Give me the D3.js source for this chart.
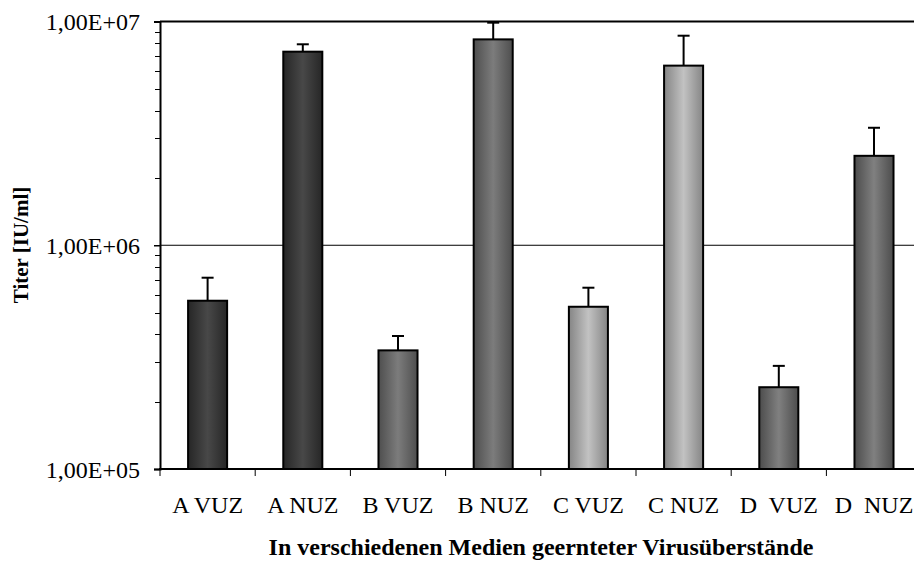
<!DOCTYPE html>
<html>
<head>
<meta charset="utf-8">
<script src="https://cdn.jsdelivr.net/npm/d3@7"></script>
<style>
  body { margin: 0; background: #fff; }
  text { font-family: "Liberation Serif", "Times New Roman", serif; fill: #000; }
</style>
</head>
<body>
<div id="chart"></div>
<script>
// Data
var categories = ['A VUZ', 'A NUZ', 'B VUZ', 'B NUZ', 'C VUZ', 'C NUZ', 'D  VUZ', 'D  NUZ'];
var titer = [5.65e5, 7.33e6, 3.39e5, 8.32e6, 5.31e5, 6.35e6, 2.32e5, 2.51e6];
var errUp = [1.51e5, 0.58e6, 0.54e5, 1.56e6, 1.15e5, 2.29e6, 0.57e5, 0.84e6];
var group = ['A', 'A', 'B', 'B', 'C', 'C', 'D', 'D'];
var yTicks = [1e5, 1e6, 1e7];

var chartWidth = 914;
var chartHeight = 561;
var plotLeft = 160, plotTop = 21.5, plotBottom = 469, step = 95.2;

// cylinder-like shading per group: [edge, centre]
var shades = {
  A: ['#262626', '#484848'],
  B: ['#4e4e4e', '#7c7c7c'],
  C: ['#858585', '#c2c2c2'],
  D: ['#4c4c4c', '#808080']
};

var svg = d3.select('#chart')
  .append('svg')
  .attr('width', chartWidth)
  .attr('height', chartHeight);

var defs = svg.append('defs');
Object.keys(shades).forEach(function(k) {
  var g = defs.append('linearGradient')
    .attr('id', 'grad' + k)
    .attr('x1', '0%').attr('x2', '100%')
    .attr('y1', '0%').attr('y2', '0%');
  g.append('stop').attr('offset', '0%').attr('stop-color', shades[k][0]);
  g.append('stop').attr('offset', '50%').attr('stop-color', shades[k][1]);
  g.append('stop').attr('offset', '100%').attr('stop-color', shades[k][0]);
});

// Scales
var xOuter = d3.scaleBand()
  .domain(categories)
  .range([plotLeft, plotLeft + step * categories.length])
  .padding(0);

var xScale = d3.scaleBand()
  .domain(categories)
  .range([plotLeft, plotLeft + step * categories.length])
  .paddingInner(0.59)
  .paddingOuter(0.295);

var yScale = d3.scaleLog()
  .domain([1e5, 1e7])
  .range([plotBottom, plotTop]);

var fmt = function(v) {
  var e = Math.round(Math.log10(v));
  return '1,00E+' + (e < 10 ? '0' + e : e);
};

// Gridlines
svg.append('g')
  .selectAll('line')
  .data(yTicks.slice(1))
  .enter()
  .append('line')
  .attr('x1', plotLeft)
  .attr('x2', chartWidth)
  .attr('y1', d => yScale(d))
  .attr('y2', d => yScale(d))
  .attr('stroke', '#000')
  .attr('stroke-width', (d, i) => i === yTicks.length - 2 ? 2 : 1);

// Y minor ticks
var minor = yScale.ticks().filter(d => yTicks.indexOf(d) < 0);
svg.append('g')
  .selectAll('line')
  .data(minor)
  .enter()
  .append('line')
  .attr('x1', plotLeft - 5)
  .attr('x2', plotLeft)
  .attr('y1', d => Math.round(yScale(d)) + 0.5)
  .attr('y2', d => Math.round(yScale(d)) + 0.5)
  .attr('stroke', '#000')
  .attr('stroke-width', 1);

// Y axis
var yAxis = svg.append('g')
  .attr('transform', 'translate(' + plotLeft + ',0)')
  .call(d3.axisLeft(yScale).tickValues(yTicks).tickFormat(fmt).tickSize(6).tickPadding(14));
yAxis.select('.domain').attr('stroke-width', 2);
yAxis.selectAll('.tick line').attr('stroke-width', 1.5);
yAxis.selectAll('.tick text')
  .style('font-family', '"Liberation Serif", serif')
  .style('font-size', '24px')
  .attr('dy', '0.35em');

// Bars
svg.append('g')
  .selectAll('rect')
  .data(titer)
  .enter()
  .append('rect')
  .attr('x', (d, i) => xScale(categories[i]))
  .attr('y', d => yScale(d))
  .attr('width', xScale.bandwidth())
  .attr('height', d => plotBottom - yScale(d))
  .attr('fill', (d, i) => 'url(#grad' + group[i] + ')')
  .attr('stroke', '#000')
  .attr('stroke-width', 2);

// Error bars (upper only)
var eb = svg.append('g')
  .selectAll('g')
  .data(titer)
  .enter()
  .append('g');
eb.append('line')
  .attr('x1', (d, i) => xScale(categories[i]) + xScale.bandwidth() / 2)
  .attr('x2', (d, i) => xScale(categories[i]) + xScale.bandwidth() / 2)
  .attr('y1', d => yScale(d))
  .attr('y2', (d, i) => yScale(d + errUp[i]))
  .attr('stroke', '#000')
  .attr('stroke-width', 2);
eb.append('line')
  .attr('x1', (d, i) => xScale(categories[i]) + xScale.bandwidth() / 2 - 6)
  .attr('x2', (d, i) => xScale(categories[i]) + xScale.bandwidth() / 2 + 6)
  .attr('y1', (d, i) => yScale(d + errUp[i]))
  .attr('y2', (d, i) => yScale(d + errUp[i]))
  .attr('stroke', '#000')
  .attr('stroke-width', 2);

// X axis
svg.append('line')
  .attr('x1', plotLeft - 1)
  .attr('x2', chartWidth)
  .attr('y1', plotBottom)
  .attr('y2', plotBottom)
  .attr('stroke', '#000')
  .attr('stroke-width', 2);

svg.append('g')
  .selectAll('line')
  .data(categories)
  .enter()
  .append('line')
  .attr('x1', d => xOuter(d))
  .attr('x2', d => xOuter(d))
  .attr('y1', plotBottom)
  .attr('y2', plotBottom + 7)
  .attr('stroke', '#000')
  .attr('stroke-width', 1);

svg.append('g')
  .selectAll('text')
  .data(categories)
  .enter()
  .append('text')
  .attr('x', d => xOuter(d) + xOuter.bandwidth() / 2)
  .attr('y', 513)
  .attr('text-anchor', 'middle')
  .style('font-size', '24px')
  .style('white-space', 'pre')
  .text(d => d);

// Axis titles
svg.append('text')
  .attr('x', 541)
  .attr('y', 555)
  .attr('text-anchor', 'middle')
  .style('font-size', '24px')
  .style('font-weight', 'bold')
  .text('In verschiedenen Medien geernteter Virusüberstände');

svg.append('text')
  .attr('transform', 'translate(28,245) rotate(-90)')
  .attr('text-anchor', 'middle')
  .style('font-size', '21px')
  .style('font-weight', 'bold')
  .text('Titer [IU/ml]');
</script>
</body>
</html>
